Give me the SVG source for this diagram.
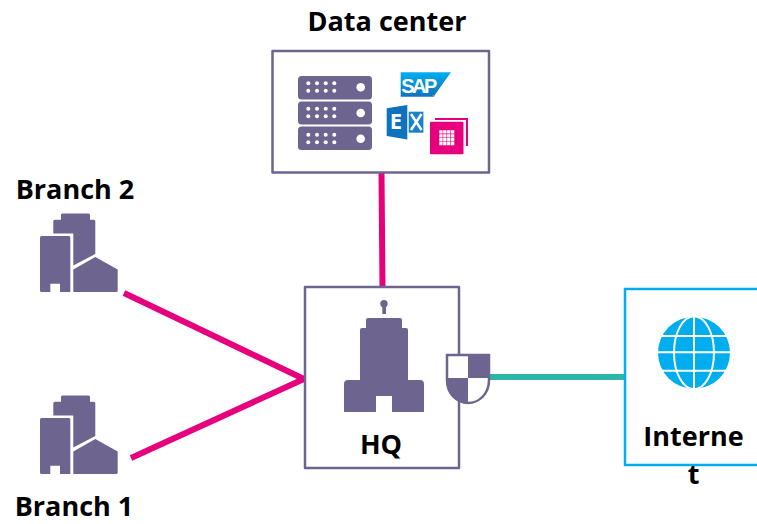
<svg xmlns="http://www.w3.org/2000/svg" xmlns:xlink="http://www.w3.org/1999/xlink" width="757" height="524" viewBox="0 0 757 524">
<style>
text{font-family:"Open Sans","Liberation Sans",sans-serif;font-weight:700;font-size:27px;fill:#000;text-anchor:middle}
.box{fill:#fff;stroke:#6e6490;stroke-width:2.5;stroke-linejoin:round}
.net{fill:#fff;stroke:#00aeef;stroke-width:2.5}
.p{fill:#6e6490}
.w{fill:#fff}
.pink{stroke:#e6007e;stroke-width:6;fill:none}
.teal{stroke:#2db5ab;stroke-width:6;fill:none}
.gl{stroke:#fff;stroke-width:2;fill:none}
</style>
<defs>
<g id="bld">
<path class="p" d="M61 215a1.500 1.500 0 0 1 1.500-1.500H88.500a1.500 1.500 0 0 1 1.500 1.500v4.700h3.800a1.500 1.500 0 0 1 1.500 1.500V254L73.300 265.500V233.500H53.300V221.200a1.500 1.500 0 0 1 1.500-1.500H61Z"/>
<path class="p" d="M41.500 236H69a1.500 1.500 0 0 1 1.300 1.500V292H60V283.700H50.300V292H41.500A1.500 1.500 0 0 1 40 290.500V237.500A1.500 1.500 0 0 1 41.500 236Z"/>
<path class="p" d="M73.300 269.500L95.300 257L117.700 269.500V290.500A1.500 1.500 0 0 1 116.200 292H73.300Z"/>
</g>
<g id="dots">
<circle cx="308.300" cy="0" r="2"/><circle cx="317" cy="0" r="2"/><circle cx="325.700" cy="0" r="2"/><circle cx="334.300" cy="0" r="2"/>
<circle cx="308.300" cy="7.500" r="2"/><circle cx="317" cy="7.500" r="2"/><circle cx="325.700" cy="7.500" r="2"/><circle cx="334.300" cy="7.500" r="2"/>
</g>
<linearGradient id="sapg" x1="0" y1="0" x2="0" y2="1"><stop offset="0" stop-color="#00aeef"/><stop offset="1" stop-color="#0f72bd"/></linearGradient>
</defs>
<g id="connectors">
<line class="pink" x1="381.500" y1="172" x2="382.500" y2="287"/>
<line class="pink" x1="124" y1="293" x2="305" y2="379.500"/>
<line class="pink" x1="131" y1="458" x2="305" y2="378.500"/>
<line class="teal" x1="488" y1="377" x2="625" y2="377"/>
</g>
<g id="data-center">
<rect class="box" x="272.500" y="51" width="216.500" height="121.500"/>
<rect class="p" x="298" y="76" width="74" height="23.500" rx="3.500"/>
<rect class="p" x="298" y="101.500" width="74" height="23" rx="3.500"/>
<rect class="p" x="298" y="126.500" width="74" height="23.500" rx="3.500"/>
<g class="w">
<circle cx="360.700" cy="87.300" r="4.300"/><circle cx="360.700" cy="113" r="4.300"/><circle cx="360.700" cy="138.700" r="4.300"/>
<use xlink:href="#dots" href="#dots" y="83.300"/>
<use xlink:href="#dots" href="#dots" y="108.800"/>
<use xlink:href="#dots" href="#dots" y="134.800"/>
</g>
<path fill="url(#sapg)" d="M400.700 72.300H451L433.500 96.700H400.700Z"/>
<text x="418" y="92.500" style="font-family:'Liberation Sans',sans-serif;font-size:20px;fill:#fff;letter-spacing:-2.500px">SAP</text>
<circle cx="433.500" cy="95.700" r="1" fill="#8a8f98"/>
<path fill="#0f72bd" d="M386.700 108.300L407.300 105V139.500L386.700 136Z"/>
<text x="396" y="129" style="font-size:22px;fill:#fff">E</text>
<rect fill="#1a82c8" x="408.700" y="111.700" width="14.700" height="21"/>
<path d="M411 114L421.500 130M421.500 114L411 130" stroke="#fff" stroke-width="2.500" fill="none"/>
<path fill="#e6007e" d="M435 118H468V146H466V120H435Z"/>
<rect fill="#e6007e" x="430" y="121.700" width="33.500" height="32.500" rx="1"/>
<path class="w" d="M439.300 130.300h3.300v3.300h-3.300zM443.200 130.300h3.300v3.300h-3.300zM447.100 130.300h3.300v3.300h-3.300zM451 130.300h3.300v3.300H451zM439.300 134.200h3.300v3.300h-3.300zM443.200 134.200h3.300v3.300h-3.300zM447.100 134.200h3.300v3.300h-3.300zM451 134.200h3.300v3.300H451zM439.300 138.100h3.300v3.300h-3.300zM443.200 138.100h3.300v3.300h-3.300zM447.100 138.100h3.300v3.300h-3.300zM451 138.100h3.300v3.300H451zM439.300 142h3.300v3.300h-3.300zM443.200 142h3.300v3.300h-3.300zM447.100 142h3.300v3.300h-3.300zM451 142h3.300v3.300H451z"/>
<text x="387" y="31">Data center</text>
</g>
<g id="branch-2">
<use xlink:href="#bld" href="#bld"/>
<text x="75" y="199">Branch 2</text>
</g>
<g id="branch-1">
<use xlink:href="#bld" href="#bld" transform="translate(0 182)"/>
<text x="74" y="516">Branch 1</text>
</g>
<g id="hq">
<rect class="box" x="305" y="287" width="154" height="181"/>
<circle class="p" cx="384" cy="303.700" r="3.700"/>
<rect class="p" x="382.300" y="304" width="3.700" height="10"/>
<path class="p" d="M366 320a2 2 0 0 1 2-2H400a2 2 0 0 1 2 2V328H406a2 2 0 0 1 2 2V380H420a4 4 0 0 1 4 4V412H392V396H376V412H344V384a4 4 0 0 1 4-4H360V330a2 2 0 0 1 2-2H366Z"/>
<text x="381" y="453.500">HQ</text>
<path fill="#fff" stroke="#6e6490" stroke-width="2.500" d="M447 355H489V380C489 394 479 403 468 403C457 403 447 394 447 380Z"/>
<path class="p" d="M468 355H489V378H468ZM447 378H468V403C457 403 447 394 447 380Z"/>
</g>
<g id="internet">
<rect class="net" x="625" y="289" width="140" height="176"/>
<circle fill="#00aeef" cx="694" cy="352.700" r="36"/>
<path class="gl" d="M658 352.300H730M662 336H726M662 370.700H726M694 316V389"/>
<ellipse class="gl" cx="694" cy="352.700" rx="20" ry="36.500"/>
<text x="693.500" y="446">Interne</text>
<text x="693.500" y="484">t</text>
</g>
</svg>
